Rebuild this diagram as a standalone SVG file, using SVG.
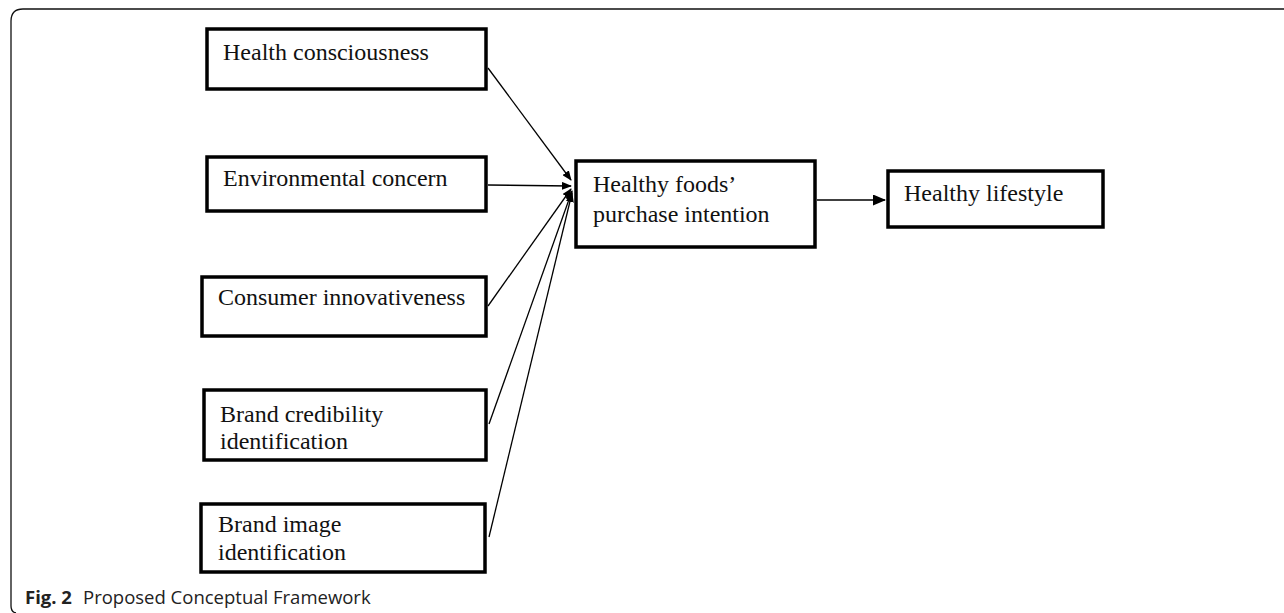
<svg xmlns="http://www.w3.org/2000/svg" width="1284" height="613" viewBox="0 0 1284 613">
  <style>
    .box { fill: #ffffff; stroke: #000000; stroke-width: 3.5; }
    .lbl { font-family: "Liberation Serif", "Times New Roman", serif; font-size: 24px; fill: #111111; }
    .edge { stroke: #000000; stroke-width: 1.3; fill: none; }
    .cap { font-family: "Open Sans", "Liberation Sans", sans-serif; font-size: 18.5px; fill: #222222; }
    .frame { fill: none; stroke: #111111; stroke-width: 1.3; }
  </style>
  <defs>
    <marker id="ah" markerWidth="10" markerHeight="8" refX="9" refY="4" orient="auto" markerUnits="userSpaceOnUse">
      <path d="M0,0 L10,4 L0,8 Z" fill="#000000"/>
    </marker>
    <marker id="ahBig" markerWidth="13" markerHeight="11" refX="12" refY="5.5" orient="auto" markerUnits="userSpaceOnUse">
      <path d="M0,0 L13,5.5 L0,11 Z" fill="#000000"/>
    </marker>
  </defs>
  <rect width="1284" height="613" fill="#ffffff"/>
  <path class="frame" d="M1290,9 H23 Q11,9 11,21 V606 Q11,612 16,613"/>

  <g id="connectors">
    <line class="edge" x1="488" y1="68" x2="571" y2="180" marker-end="url(#ah)"/>
    <line class="edge" x1="488" y1="185" x2="571" y2="186" marker-end="url(#ah)"/>
    <line class="edge" x1="488" y1="306" x2="571" y2="189" marker-end="url(#ah)"/>
    <line class="edge" x1="489" y1="424" x2="572" y2="191" marker-end="url(#ah)"/>
    <line class="edge" x1="489" y1="537" x2="572" y2="193" marker-end="url(#ah)"/>
    <line class="edge" x1="817" y1="200" x2="885" y2="200" marker-end="url(#ahBig)"/>
  </g>

  <g id="health-consciousness">
    <rect class="box" x="207" y="29" width="279" height="60"/>
    <text class="lbl" x="223" y="60">Health consciousness</text>
  </g>
  <g id="environmental-concern">
    <rect class="box" x="207" y="157" width="279" height="54"/>
    <text class="lbl" x="223" y="186">Environmental concern</text>
  </g>
  <g id="consumer-innovativeness">
    <rect class="box" x="202" y="277" width="284" height="59"/>
    <text class="lbl" x="218" y="305">Consumer innovativeness</text>
  </g>
  <g id="brand-credibility">
    <rect class="box" x="204" y="390" width="282" height="70"/>
    <text class="lbl" x="220" y="422">Brand credibility</text>
    <text class="lbl" x="220" y="449">identification</text>
  </g>
  <g id="brand-image">
    <rect class="box" x="201" y="504" width="284" height="68"/>
    <text class="lbl" x="218" y="532">Brand image</text>
    <text class="lbl" x="218" y="560">identification</text>
  </g>
  <g id="purchase-intention">
    <rect class="box" x="576" y="161" width="239" height="86"/>
    <text class="lbl" x="593" y="192">Healthy foods’</text>
    <text class="lbl" x="593" y="222">purchase intention</text>
  </g>
  <g id="healthy-lifestyle">
    <rect class="box" x="888" y="171" width="215" height="56"/>
    <text class="lbl" x="904" y="201">Healthy lifestyle</text>
  </g>

  <text class="cap" x="25" y="604"><tspan font-weight="bold">Fig. 2</tspan><tspan x="83">Proposed Conceptual Framework</tspan></text>
</svg>
